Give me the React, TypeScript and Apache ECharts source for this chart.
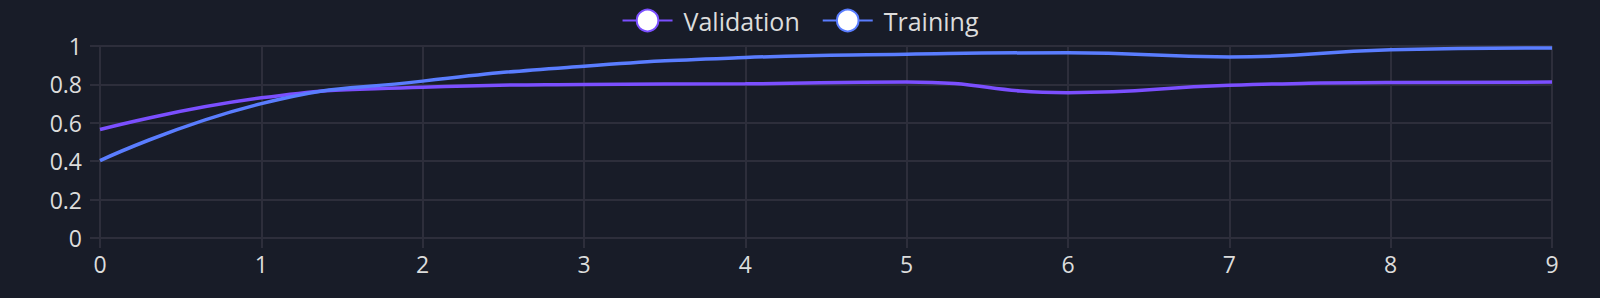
import React, { useEffect, useRef } from "react";
import * as echarts from "echarts";

const epochs = ["0", "1", "2", "3", "4", "5", "6", "7", "8", "9"];
const validation = [0.565, 0.73, 0.785, 0.8, 0.803, 0.813, 0.757, 0.795, 0.81, 0.812];
const training = [0.403, 0.7, 0.817, 0.895, 0.94, 0.957, 0.965, 0.943, 0.98, 0.99];
const yTicks = [0, 0.2, 0.4, 0.6, 0.8, 1];

const BG = "#181c28";
const GRID = "#2d2e3b";
const TEXT = "#dcdcdc";
const FONT = "'Open Sans', 'Noto Sans', sans-serif";

export default function App() {
  const ref = useRef<HTMLDivElement>(null);
  useEffect(() => {
    document.body.style.margin = "0";
    document.body.style.background = BG;
    if (!ref.current) return;
    const chart = echarts.init(ref.current, null, { renderer: "svg" });
    chart.setOption({
      animation: false,
      backgroundColor: BG,
      textStyle: { fontFamily: FONT },
      legend: {
        top: 3,
        left: "center",
        itemWidth: 50,
        itemHeight: 27,
        itemGap: 22,
        textStyle: { color: TEXT, fontSize: 25, fontFamily: FONT, padding: [0, 0, 0, 6] },
        data: ["Validation", "Training"],
      },
      grid: { left: 100, right: 48, top: 46, bottom: 60, containLabel: false },
      xAxis: {
        type: "category",
        data: epochs,
        boundaryGap: false,
        axisLine: { show: true, lineStyle: { color: GRID, width: 2 } },
        axisTick: { show: true, length: 10, lineStyle: { color: GRID, width: 2 } },
        splitLine: { show: true, lineStyle: { color: GRID, width: 2 } },
        axisLabel: { color: TEXT, fontSize: 23, margin: 14, fontFamily: FONT },
      },
      yAxis: {
        type: "value",
        min: yTicks[0],
        max: yTicks[yTicks.length - 1],
        interval: 0.2,
        axisLine: { show: true, lineStyle: { color: GRID, width: 2 } },
        axisTick: { show: true, length: 10, lineStyle: { color: GRID, width: 2 } },
        splitLine: { show: true, lineStyle: { color: GRID, width: 2 } },
        axisLabel: {
          color: TEXT,
          fontSize: 23,
          margin: 18,
          fontFamily: FONT,
          formatter: (v: number) => String(Math.round(v * 10) / 10),
        },
      },
      series: [
        {
          name: "Validation",
          type: "line",
          data: validation,
          smooth: true,
          showSymbol: false,
          symbol: "emptyCircle",
          color: "#7b4fff",
          lineStyle: { width: 3.5, color: "#7b4fff" },
        },
        {
          name: "Training",
          type: "line",
          data: training,
          smooth: true,
          showSymbol: false,
          symbol: "emptyCircle",
          color: "#5a7dff",
          lineStyle: { width: 3.5, color: "#5a7dff" },
        },
      ],
    });
    return () => chart.dispose();
  }, []);
  return <div ref={ref} style={{ width: 1600, height: 298 }} />;
}
